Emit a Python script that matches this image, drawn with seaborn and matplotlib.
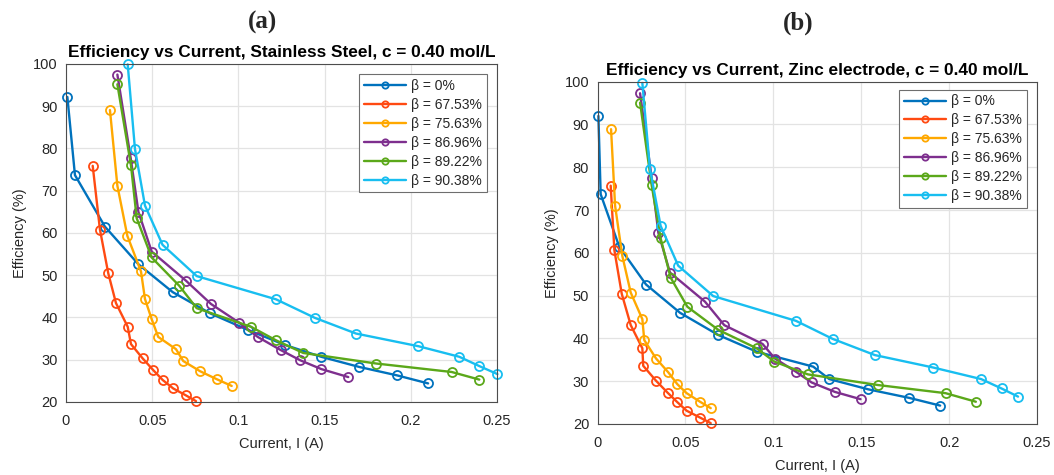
import matplotlib
matplotlib.use("Agg")
import matplotlib.pyplot as plt
import seaborn as sns
import pandas as pd

# ---------------- data ----------------
labels = ["β = 0%", "β = 67.53%", "β = 75.63%", "β = 86.96%", "β = 89.22%", "β = 90.38%"]
colors = ["#0072BD", "#FF4A12", "#FFA800", "#7E2F8E", "#5BA81A", "#18BEF0"]

# Panel (a): Stainless Steel
a_x0 = [0.0008, 0.0052, 0.0226, 0.042, 0.0619, 0.0835, 0.1058, 0.127, 0.148, 0.170, 0.192, 0.210]
a_y0 = [92.2, 73.7, 61.5, 52.6, 46.0, 41.0, 37.0, 33.5, 30.7, 28.3, 26.3, 24.4]
a_x1 = [0.0155, 0.0197, 0.0245, 0.029, 0.0358, 0.0377, 0.0445, 0.0507, 0.0561, 0.0622, 0.0694, 0.0754]
a_y1 = [75.9, 60.8, 50.5, 43.4, 37.8, 33.7, 30.3, 27.5, 25.2, 23.2, 21.6, 20.2]
a_x2 = [0.0255, 0.0298, 0.0356, 0.0435, 0.0458, 0.0497, 0.0535, 0.0638, 0.068, 0.0777, 0.0874, 0.0961]
a_y2 = [89.1, 71.2, 59.3, 50.9, 44.4, 39.6, 35.4, 32.5, 29.7, 27.3, 25.4, 23.8]
a_x3 = [0.0298, 0.0375, 0.042, 0.0497, 0.0696, 0.0841, 0.1003, 0.1112, 0.1245, 0.1357, 0.148, 0.1637]
a_y3 = [97.5, 77.8, 65.0, 55.6, 48.7, 43.2, 38.8, 35.4, 32.3, 29.9, 27.8, 25.9]
a_x4 = [0.0298, 0.0377, 0.041, 0.0497, 0.0657, 0.0758, 0.1073, 0.1218, 0.1376, 0.180, 0.2237, 0.2397]
a_y4 = [95.2, 76.0, 63.5, 54.2, 47.5, 42.2, 37.8, 34.6, 31.6, 29.1, 27.1, 25.3]
a_x5 = [0.0358, 0.040, 0.0458, 0.056, 0.0758, 0.1218, 0.1444, 0.1682, 0.2044, 0.2281, 0.2397, 0.2502]
a_y5 = [99.9, 79.9, 66.5, 57.2, 49.8, 44.3, 39.9, 36.2, 33.2, 30.7, 28.5, 26.6]

# Panel (b): Zinc electrode
b_x0 = [0.0005, 0.0018, 0.0124, 0.0276, 0.0469, 0.0687, 0.0905, 0.1227, 0.1318, 0.154, 0.1773, 0.1949]
b_y0 = [92.0, 73.7, 61.4, 52.6, 46.0, 40.8, 36.9, 33.4, 30.5, 28.1, 26.1, 24.3]
b_x1 = [0.0075, 0.0096, 0.0138, 0.0189, 0.0255, 0.026, 0.0333, 0.0399, 0.0454, 0.0507, 0.0583, 0.0644]
b_y1 = [75.7, 60.6, 50.4, 43.1, 37.7, 33.6, 30.1, 27.3, 25.1, 23.1, 21.5, 20.2]
b_x2 = [0.0077, 0.010, 0.0141, 0.0189, 0.0255, 0.0266, 0.0333, 0.0402, 0.0454, 0.0507, 0.0583, 0.0644]
b_y2 = [88.9, 71.0, 59.3, 50.7, 44.5, 39.6, 35.3, 32.1, 29.3, 27.2, 25.2, 23.7]
b_x3 = [0.0242, 0.0308, 0.0346, 0.0412, 0.0611, 0.0721, 0.0939, 0.1009, 0.1129, 0.1218, 0.135, 0.1496]
b_y3 = [97.3, 77.6, 64.7, 55.4, 48.6, 43.1, 38.7, 35.3, 32.2, 29.7, 27.5, 25.8]
b_x4 = [0.0242, 0.0308, 0.0359, 0.0416, 0.0511, 0.0687, 0.0905, 0.1005, 0.1196, 0.1596, 0.198, 0.2152]
b_y4 = [95.1, 75.8, 63.4, 54.2, 47.4, 42.0, 37.7, 34.6, 31.6, 29.1, 27.2, 25.2]
b_x5 = [0.0255, 0.0298, 0.0359, 0.0459, 0.0658, 0.1129, 0.1337, 0.1578, 0.1909, 0.2182, 0.2298, 0.2392]
b_y5 = [99.7, 79.7, 66.3, 57.0, 49.9, 44.1, 39.9, 36.1, 33.2, 30.5, 28.3, 26.4]

x_ticks = [0, 0.05, 0.1, 0.15, 0.2, 0.25]
x_tick_labels = ["0", "0.05", "0.1", "0.15", "0.2", "0.25"]
y_ticks = [20, 30, 40, 50, 60, 70, 80, 90, 100]

panel_a = list(zip([a_x0, a_x1, a_x2, a_x3, a_x4, a_x5], [a_y0, a_y1, a_y2, a_y3, a_y4, a_y5]))
panel_b = list(zip([b_x0, b_x1, b_x2, b_x3, b_x4, b_x5], [b_y0, b_y1, b_y2, b_y3, b_y4, b_y5]))

# ---------------- styling ----------------
sns.set_style("white")
plt.rcParams["font.family"] = ["Liberation Sans", "DejaVu Sans"]

fig = plt.figure(figsize=(10.54, 4.75), dpi=100)
ax_a = fig.add_axes([0.0626, 0.1537, 0.409, 0.7116])
ax_b = fig.add_axes([0.5669, 0.1074, 0.417, 0.7206])

axis_col = "#4d4d4d"
text_col = "#262626"


def draw(ax, series, title, legend_anchor):
    for (xs, ys), lab, col in zip(series, labels, colors):
        df = pd.DataFrame({"Current": xs, "Efficiency": ys})
        sns.lineplot(data=df, x="Current", y="Efficiency", ax=ax, sort=False,
                     estimator=None, color=col, linewidth=1.7, marker="o",
                     markersize=6.5, markerfacecolor="none", markeredgecolor=col,
                     markeredgewidth=1.3, label=lab, clip_on=False)
    ax.set_xlim(0, 0.25)
    ax.set_ylim(20, 100)
    ax.set_xticks(x_ticks)
    ax.set_xticklabels(x_tick_labels)
    ax.set_yticks(y_ticks)
    ax.grid(True, color="#e3e3e3", linewidth=0.9)
    ax.set_axisbelow(True)
    for s in ax.spines.values():
        s.set_visible(True)
        s.set_color(axis_col)
        s.set_linewidth(0.8)
    ax.tick_params(axis="both", direction="in", length=3, width=0.7, color=axis_col,
                   labelsize=10.5, labelcolor=text_col)
    ax.tick_params(axis="x", pad=9)
    ax.tick_params(axis="y", pad=6)
    ax.set_xlabel("Current, I (A)", fontsize=10.5, color=text_col, labelpad=6)
    ax.set_ylabel("Efficiency (%)", fontsize=10.5, color=text_col, labelpad=4)
    ax.set_title(title, fontsize=12.4, fontweight="bold", color="black", pad=5)
    leg = ax.legend(loc="upper right", bbox_to_anchor=legend_anchor, fontsize=10,
                    frameon=True, fancybox=False, framealpha=1, edgecolor="#6e6e6e",
                    handlelength=3.0, handletextpad=0.4, borderpad=0.35,
                    labelspacing=0.35, borderaxespad=0, markerscale=0.7)
    leg.get_frame().set_linewidth(0.8)


draw(ax_a, panel_a, "Efficiency vs Current, Stainless Steel, c = 0.40 mol/L", (0.977, 0.969))
draw(ax_b, panel_b, "Efficiency vs Current, Zinc electrode, c = 0.40 mol/L", (0.977, 0.977))

fig.text(0.2486, 0.952, "(a)", ha="center", va="center", fontsize=18, fontweight="bold",
         family=["Liberation Serif", "DejaVu Serif"])
fig.text(0.757, 0.952, "(b)", ha="center", va="center", fontsize=18, fontweight="bold",
         family=["Liberation Serif", "DejaVu Serif"])

fig.savefig("out.png", dpi=100)
